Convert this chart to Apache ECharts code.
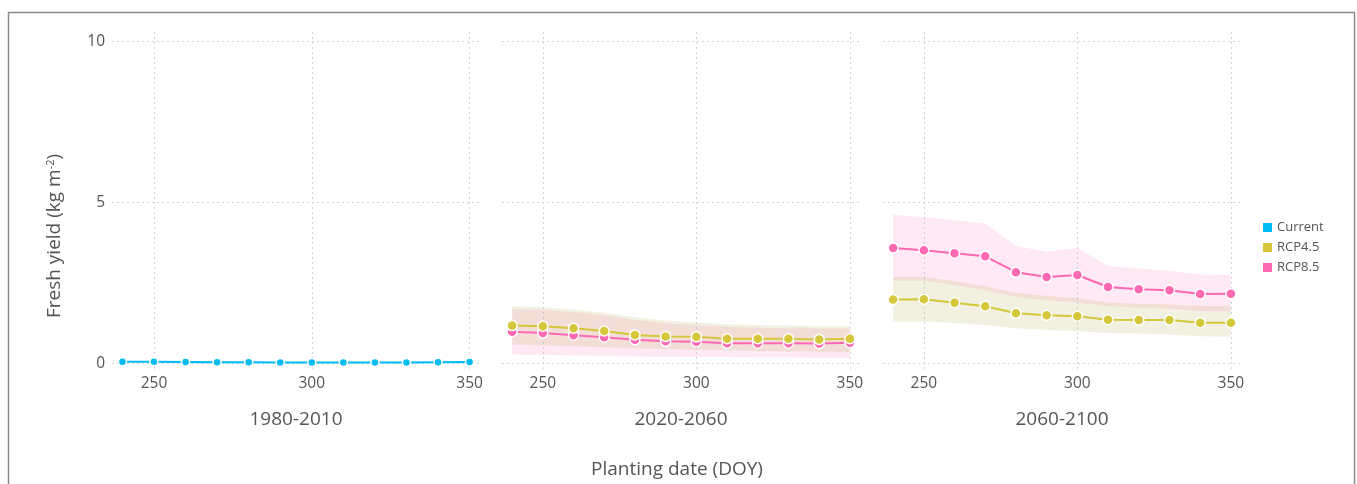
<!DOCTYPE html>
<html>
<head>
<meta charset="utf-8">
<script src="https://cdn.jsdelivr.net/npm/echarts@6/dist/echarts.min.js"></script>
<style>html,body{margin:0;padding:0;background:#fff}#c{width:1357px;height:484px}</style>
</head>
<body>
<div id="c"></div>
<script>
// ---- data ----
const doy = [240, 250, 260, 270, 280, 290, 300, 310, 320, 330, 340, 350];
const xTicks = [250, 300, 350];
const yTicks = [0, 5, 10];
const periods = ['1980-2010', '2020-2060', '2060-2100'];

const current = [0.06, 0.06, 0.05, 0.04, 0.04, 0.03, 0.03, 0.03, 0.03, 0.03, 0.04, 0.05];

const rcp45_mid = [1.18, 1.16, 1.10, 1.01, 0.89, 0.84, 0.83, 0.77, 0.77, 0.77, 0.75, 0.77];
const rcp45_mid_lo = [0.59, 0.57, 0.54, 0.51, 0.47, 0.45, 0.43, 0.41, 0.39, 0.38, 0.37, 0.36];
const rcp45_mid_hi = [1.77, 1.75, 1.68, 1.58, 1.44, 1.34, 1.27, 1.22, 1.19, 1.18, 1.16, 1.16];
const rcp85_mid = [0.99, 0.95, 0.88, 0.82, 0.74, 0.69, 0.68, 0.63, 0.63, 0.63, 0.62, 0.65];
const rcp85_mid_lo = [0.28, 0.27, 0.25, 0.24, 0.22, 0.21, 0.20, 0.20, 0.19, 0.19, 0.18, 0.18];
const rcp85_mid_hi = [1.69, 1.67, 1.60, 1.50, 1.35, 1.26, 1.19, 1.14, 1.11, 1.10, 1.09, 1.09];

const rcp45_end = [1.99, 2.00, 1.89, 1.78, 1.56, 1.50, 1.47, 1.36, 1.35, 1.35, 1.27, 1.27];
const rcp45_end_lo = [1.31, 1.31, 1.26, 1.20, 1.10, 1.04, 1.00, 0.95, 0.93, 0.90, 0.85, 0.83];
const rcp45_end_hi = [2.69, 2.69, 2.56, 2.40, 2.20, 2.10, 2.04, 1.90, 1.86, 1.84, 1.79, 1.78];
const rcp85_end = [3.59, 3.52, 3.43, 3.33, 2.84, 2.69, 2.75, 2.38, 2.31, 2.28, 2.16, 2.17];
const rcp85_end_lo = [2.57, 2.57, 2.44, 2.27, 2.07, 1.97, 1.90, 1.78, 1.73, 1.70, 1.63, 1.62];
const rcp85_end_hi = [4.62, 4.55, 4.45, 4.35, 3.65, 3.47, 3.60, 3.02, 2.95, 2.88, 2.77, 2.76];

// ---- styling ----
const FONT = 'Open Sans';
const TXT = '#555';
const C_CUR = '#00bcf2', C_45 = '#d4c73a', C_85 = '#ff69b4';
const F_45 = 'rgba(189,180,100,0.20)', F_85 = 'rgba(255,105,180,0.15)';
const gridLine = { show: true, lineStyle: { color: '#d3d3e0', type: [2, 3], width: 1 } };

const chart = echarts.init(document.getElementById('c'));

const pairs = (ys) => doy.map((x, i) => [x, ys[i]]);

function band(idx, lo, hi, fill) {
  return {
    type: 'custom', xAxisIndex: idx, yAxisIndex: idx, silent: true, z: 1,
    data: doy.map((x, i) => [x, lo[i], hi[i]]),
    encode: { x: 0, y: [1, 2] },
    renderItem: function (params, api) {
      if (params.dataIndexInside !== 0) return null;
      const n = params.dataInsideLength;
      const top = [], bot = [];
      for (let k = 0; k < n; k++) {
        const x = api.value(0, k);
        top.push(api.coord([x, api.value(2, k)]));
        bot.push(api.coord([x, api.value(1, k)]));
      }
      return { type: 'polygon', shape: { points: top.concat(bot.reverse()) }, style: { fill: fill } };
    }
  };
}
function meanLine(idx, name, ys, color, size) {
  return { type: 'line', name: name, xAxisIndex: idx, yAxisIndex: idx, data: pairs(ys),
    symbol: 'circle', symbolSize: size, color: color,
    lineStyle: { color: color, width: 2 },
    itemStyle: { color: color, borderColor: '#fff', borderWidth: 1.5 }, z: 3 };
}

const grids = [
  { left: 112, top: 32, width: 368, height: 338 },
  { left: 502, top: 32, width: 358, height: 338 },
  { left: 883, top: 32, width: 358, height: 338 }
];

const xAxes = grids.map((g, i) => ({
  type: 'value', gridIndex: i, min: 236.7, max: 353.3,
  name: periods[i], nameLocation: 'middle', nameGap: 40,
  nameTextStyle: { fontSize: 19, color: TXT, fontFamily: FONT },
  axisLine: { show: false }, axisTick: { show: false, customValues: xTicks },
  axisLabel: { customValues: xTicks, fontSize: 15.5, color: TXT, fontFamily: FONT, margin: 6 },
  splitLine: gridLine
}));
const yAxes = grids.map((g, i) => ({
  type: 'value', gridIndex: i, min: -0.2, max: 10.3,
  axisLine: { show: false }, axisTick: { show: false, customValues: yTicks },
  axisLabel: { show: i === 0, customValues: yTicks, fontSize: 15.5, color: TXT, fontFamily: FONT, margin: 7 },
  splitLine: gridLine
}));

const series = [
  meanLine(0, 'Current', current, C_CUR, 8),
  band(1, rcp85_mid_lo, rcp85_mid_hi, F_85),
  band(1, rcp45_mid_lo, rcp45_mid_hi, F_45),
  meanLine(1, 'RCP8.5', rcp85_mid, C_85, 10),
  meanLine(1, 'RCP4.5', rcp45_mid, C_45, 10),
  band(2, rcp85_end_lo, rcp85_end_hi, F_85),
  band(2, rcp45_end_lo, rcp45_end_hi, F_45),
  meanLine(2, 'RCP4.5', rcp45_end, C_45, 10),
  meanLine(2, 'RCP8.5', rcp85_end, C_85, 10)
];

chart.setOption({
  animation: false,
  backgroundColor: '#fff',
  textStyle: { fontFamily: FONT },
  grid: grids,
  xAxis: xAxes,
  yAxis: yAxes,
  legend: {
    data: ['Current', 'RCP4.5', 'RCP8.5'],
    orient: 'vertical', left: 1258, top: 216,
    icon: 'rect', itemWidth: 9, itemHeight: 9, itemGap: 7,
    itemStyle: { borderWidth: 0 },
    textStyle: { fontSize: 13, color: TXT, fontFamily: FONT }
  },
  graphic: [
    { type: 'rect', shape: { x: 8.5, y: 12.5, width: 1346, height: 490 },
      style: { fill: 'none', stroke: '#8a8a8a', lineWidth: 1.5 }, silent: true },
    { type: 'text', x: 55, y: 236, rotation: Math.PI / 2,
      style: { text: '{a|Fresh yield (kg m}{s|-2}{a|)}', textAlign: 'center', textVerticalAlign: 'middle',
        rich: { a: { fontSize: 19, fill: TXT, fontFamily: FONT }, s: { fontSize: 11, fill: TXT, fontFamily: FONT, verticalAlign: 'top' } } } },
    { type: 'text', x: 677, y: 470,
      style: { text: 'Planting date (DOY)', fontSize: 19, fill: TXT, fontFamily: FONT, textAlign: 'center', textVerticalAlign: 'middle' } }
  ],
  series: series
});
</script>
</body>
</html>
